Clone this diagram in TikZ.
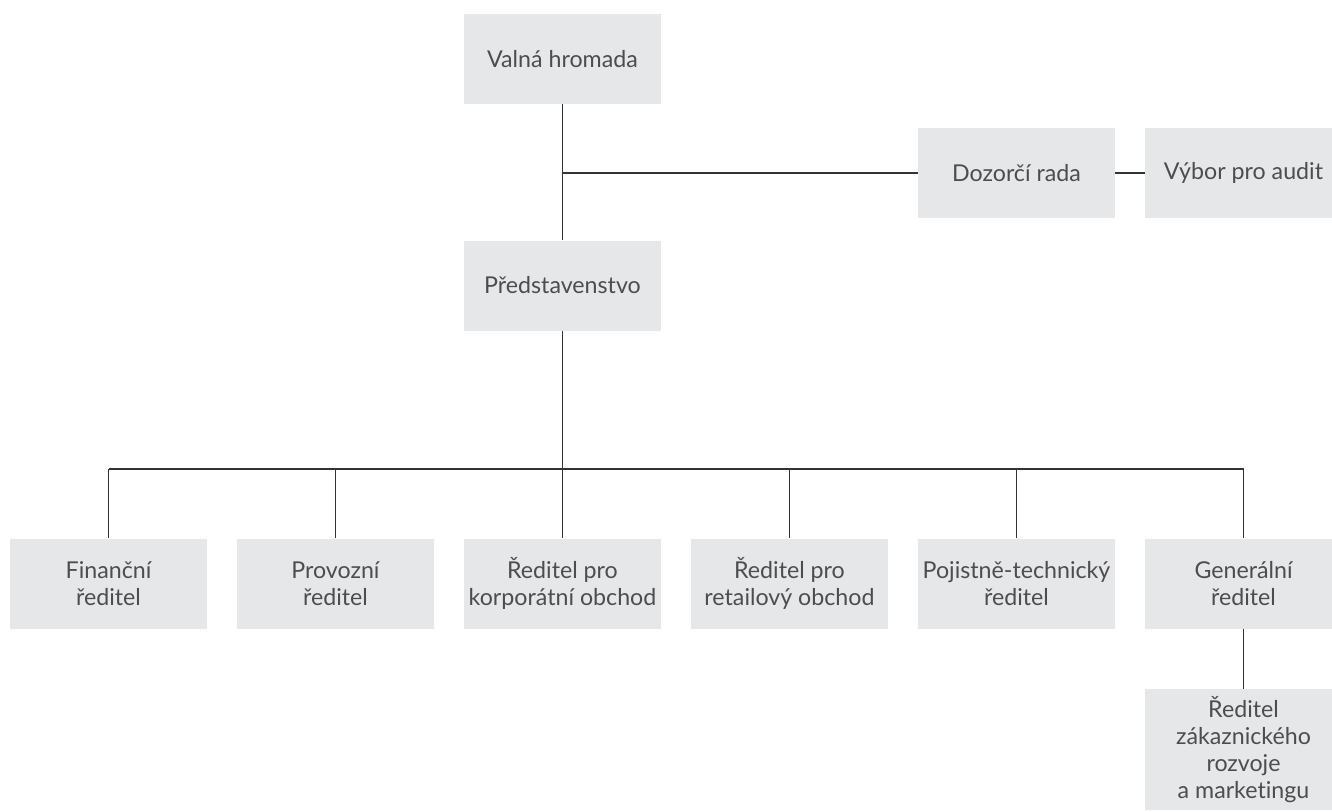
\documentclass[tikz,border=0pt]{standalone}
\usepackage{fontspec}
\setmainfont[Ligatures=NoCommon]{Lato}
\definecolor{boxgray}{HTML}{E6E7E8}
\definecolor{textgray}{HTML}{4D4D4F}
\definecolor{linegray}{HTML}{333335}
\tikzset{
    unit/.style={fill=boxgray, text=textgray, align=center, minimum width=197pt,
        minimum height=90pt, inner sep=0pt, font=\fontsize{23.2}{27}\selectfont},
    tall/.style={minimum height=121pt},
    link/.style={draw=linegray, line width=1.7pt}
}
\begin{document}
\begin{tikzpicture}[x=1pt, y=-1pt]
    \useasboundingbox (0,0) rectangle (1332,811);

    % Top levels
    \node[unit] (valna) at (562.5, 59) {Valná hromada};
    \node[unit] (pred) at (562.5, 285.5) {Představenstvo};
    \node[unit] (dozor) at (1016.5, 173) {Dozorčí rada};
    \node[unit] (vybor) at (1243.5, 173) {Výbor pro audit};

    % Directors
    \node[unit] (fin) at (108.5, 583.5) {Finanční\\ředitel};
    \node[unit] (prov) at (335.5, 583.5) {Provozní\\ředitel};
    \node[unit] (korp) at (562.5, 583.5) {Ředitel pro\\korporátní obchod};
    \node[unit] (ret) at (789.5, 583.5) {Ředitel pro\\retailový obchod};
    \node[unit] (poj) at (1016.5, 583.5) {Pojistně-technický\\ředitel};
    \node[unit] (gen) at (1243.5, 583.5) {Generální\\ředitel};
    \node[unit, tall] (zak) at (1243.5, 749.5) {Ředitel\\zákaznického\\rozvoje\\a marketingu};

    % Connectors
    \draw[link] (valna.south) -- (pred.north);
    \draw[link] (valna.south |- dozor.west) -- (dozor.west);
    \draw[link] (dozor.east) -- (vybor.west);

    \coordinate (bus) at (562.5, 469);
    \draw[link] (pred.south) -- (bus);
    \draw[link] (bus -| fin.north) -- (bus -| gen.north);
    \foreach \n in {fin, prov, korp, ret, poj, gen}
        \draw[link] (bus -| \n.north) -- (\n.north);
    \draw[link] (gen.south) -- (zak.north);
\end{tikzpicture}
\end{document}
